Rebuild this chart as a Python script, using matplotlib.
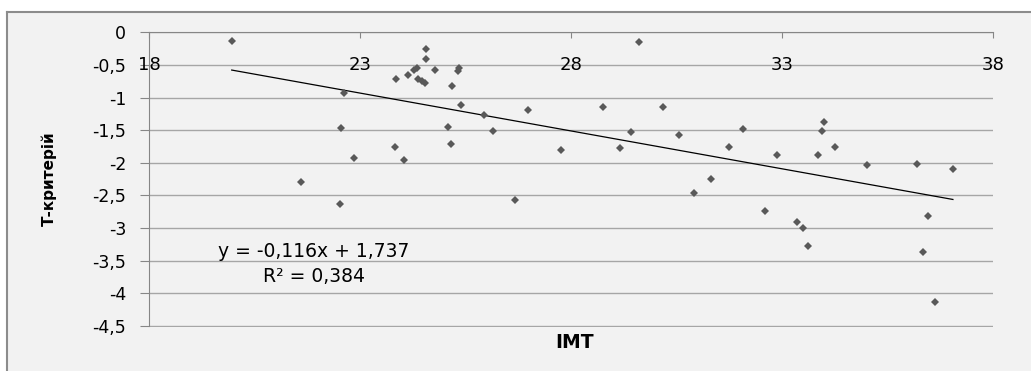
import matplotlib.pyplot as plt
from matplotlib.patches import Rectangle
from matplotlib.lines import Line2D
from matplotlib.ticker import FuncFormatter

# IMT vs T-criterion
imt = [19.96, 21.60, 22.63, 22.54, 22.86, 22.52, 23.85, 23.83, 24.05, 24.14,
       24.29, 24.36, 24.38, 24.46, 24.55, 24.56, 24.56, 24.78, 25.17, 25.35,
       25.32, 25.39, 25.08, 25.16, 25.94, 26.16, 26.67, 26.99, 27.76, 28.75,
       29.15, 29.41, 29.62, 30.17, 30.57, 30.92, 31.31, 31.75, 32.07, 32.59,
       32.89, 33.35, 33.49, 33.62, 33.85, 33.94, 34.00, 34.25, 35.01, 36.21,
       36.33, 36.46, 36.62, 37.05]
t_crit = [-0.14, -2.30, -0.93, -1.47, -1.93, -2.63, -0.71, -1.75, -1.95, -0.66,
          -0.57, -0.55, -0.71, -0.74, -0.77, -0.26, -0.41, -0.57, -0.82, -0.54,
          -0.60, -1.12, -1.45, -1.71, -1.27, -1.51, -2.57, -1.19, -1.81, -1.14,
          -1.77, -1.53, -0.15, -1.14, -1.57, -2.46, -2.25, -1.75, -1.48, -2.73,
          -1.88, -2.90, -3.00, -3.28, -1.88, -1.51, -1.38, -1.75, -2.04, -2.01,
          -3.36, -2.82, -4.13, -2.10]

slope = -0.116
intercept = 1.737
r2 = 0.384

x_ticks = [18, 23, 28, 33, 38]
y_ticks = [0, -0.5, -1, -1.5, -2, -2.5, -3, -3.5, -4, -4.5]

fig = plt.figure(figsize=(10.31, 3.71), dpi=100)
fig.patch.set_facecolor('white')
# chart area: light grey fill, border only on top and left (rest is cut off)
left_px, top_px = 7 / 1031, 1 - 12 / 371
fig.patches.append(Rectangle((left_px, 0), 1, top_px, transform=fig.transFigure,
                             facecolor='#f2f2f2', edgecolor='none', zorder=-10))
fig.add_artist(Line2D([left_px, 1], [top_px, top_px], color='#8c8c8c', linewidth=1.5))
fig.add_artist(Line2D([left_px, left_px], [0, top_px], color='#8c8c8c', linewidth=1.5))

ax = fig.add_axes([149 / 1031, 1 - 326.7 / 371, (993 - 149) / 1031, (326.7 - 32.3) / 371])
ax.set_facecolor('none')
ax.set_xlim(18, 38)
ax.set_ylim(-4.51, 0)

for s in ['right', 'bottom']:
    ax.spines[s].set_visible(False)
ax.spines['top'].set_color('#868686')
ax.spines['left'].set_color('#868686')
ax.spines['left'].set_bounds(-4.5, 0)

ax.set_yticks(y_ticks)
ax.yaxis.set_major_formatter(FuncFormatter(lambda v, p: ('%g' % v).replace('.', ',')))
ax.tick_params(axis='y', direction='out', length=6.5, color='#868686',
               labelsize=12.5, pad=10)
ax.yaxis.grid(True, color='#a6a6a6', linewidth=1)
ax.set_axisbelow(True)

ax.xaxis.set_ticks_position('top')
ax.set_xticks(x_ticks)
ax.tick_params(axis='x', direction='in', length=4.5, color='#868686',
               labeltop=False, labelbottom=False)
for xv in x_ticks:
    ax.text(xv, -0.5, str(xv), ha='center', va='center', fontsize=13)

ax.plot(imt, t_crit, 'D', color='#595959', markersize=4.2, markeredgewidth=0, zorder=3)

x0, x1 = min(imt), max(imt)
ax.plot([x0, x1], [slope * x0 + intercept, slope * x1 + intercept],
        color='black', linewidth=0.9, zorder=2)

ax.text(21.91, -3.36, 'y = -0,116x + 1,737', ha='center', va='center', fontsize=13.5)
ax.text(21.91, -3.74, 'R² = %s' % str(r2).replace('.', ','), ha='center', va='center',
        fontsize=13.5)

fig.text(49 / 1031, 1 - 179 / 371, 'Т-критерій', rotation=90, ha='center', va='center',
         fontsize=11, fontweight='bold')
fig.text(575 / 1031, 1 - 343 / 371, 'IMT', ha='center', va='center',
         fontsize=13.5, fontweight='bold')

fig.savefig('out.png', dpi=100)
